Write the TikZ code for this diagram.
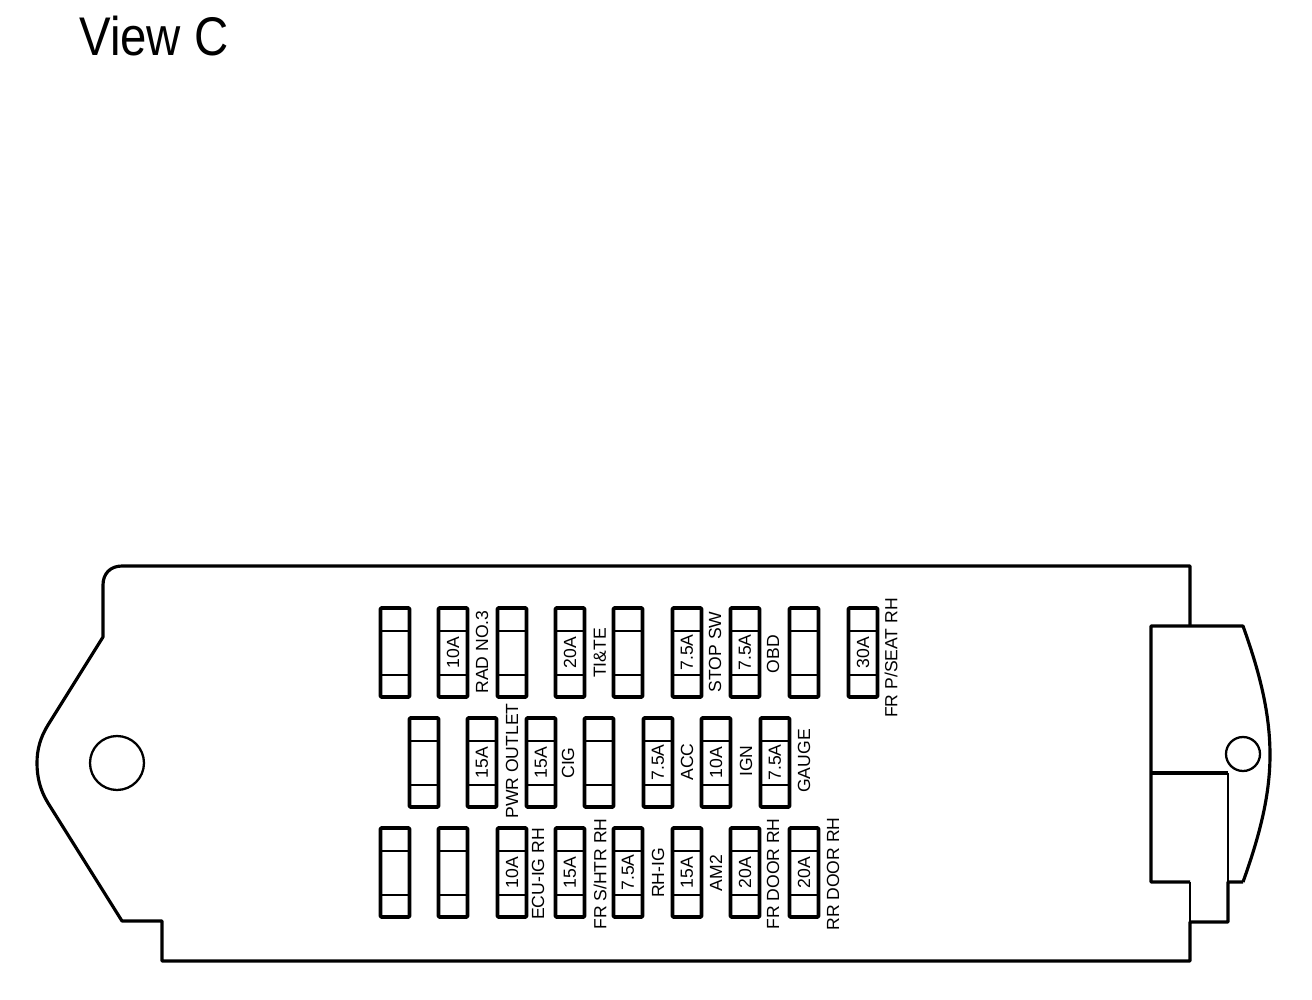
\documentclass[tikz,border=0pt]{standalone}
\usepackage{fontspec}
\setmainfont{Liberation Sans}
\begin{document}
\begin{tikzpicture}[x=0.02cm,y=-0.02cm,line join=round]
    \tikzstyle{fuse}=[draw=black, line width=2.1pt, rectangle, rounded corners=0.5pt, outer sep=0pt, inner sep=0pt, minimum width=0.58cm, minimum height=1.78cm, text=black, font=\fontsize{10}{10}\selectfont]
    \tikzstyle{bar}=[draw=black, line width=1.1pt]
    \tikzstyle{lbl}=[rotate=90, inner sep=0pt, text=black, font=\fontsize{10}{10}\selectfont]
    \tikzstyle{hole}=[draw=black, circle, line width=1.3pt, outer sep=0pt, inner sep=0pt]
    \tikzstyle{case}=[draw=black, line width=1.8pt]
    \tikzstyle{thin}=[draw=black, line width=1.1pt]

    \useasboundingbox (0,0) rectangle (1312,1000);

    \node[anchor=base west, inner sep=0pt, xscale=0.87, font=\fontsize{31}{31}\selectfont] (title) at (79,56) {View C};

    % case outline
    \coordinate (c1) at (1190,922);
    \coordinate (c2) at (1228,922);
    \coordinate (c3) at (1228,882);
    \coordinate (c4) at (1243,882);
    \coordinate (c5) at (1270,755);
    \coordinate (c6) at (1243,626);
    \coordinate (c7) at (1151,626);
    \coordinate (c8) at (1151,882);
    \coordinate (c9) at (1190,882);
    \coordinate (c10) at (1190,626);
    \coordinate (c11) at (1151,773);
    \coordinate (c12) at (1228,773);

    \draw[case] (c10) -- (1190,566) -- (122,566) .. controls (110,566) and (103,574) .. (103,585)
      -- (103,637) -- (48,725) .. controls (40,738) and (37,750) .. (37,763)
      .. controls (37,777) and (40,790) .. (48,803) -- (122,921) -- (162,921) -- (162,961)
      -- (1190,961) -- (c1) -- (c2) -- (c3) -- (c4);
    \draw[case] (c4) .. controls (1258,840) and (1270,798) .. (c5)
      .. controls (1270,710) and (1258,668) .. (c6) -- (c7) -- (c8) -- (c9);
    \draw[thin] (c9) -- (c1);
    \draw[thin] (c12) -- (c3);
    \draw[case] (c11) -- (c12);

    \node[hole, minimum size=1.08cm] (bolt) at (117,763) {};
    \node[hole, minimum size=0.68cm] (clip) at (1243,754) {};

    % fuses
    \foreach \n/\x/\y/\rate in {
      t1/395/652.5/{}, t2/453/652.5/10A, t3/512/652.5/{}, t4/570/652.5/20A, t5/628/652.5/{},
      t6/687/652.5/7.5A, t7/745/652.5/7.5A, t8/804/652.5/{}, t9/863/652.5/30A,
      m1/424/762.5/{}, m2/482/762.5/15A, m3/541/762.5/15A, m4/599/762.5/{},
      m5/658/762.5/7.5A, m6/716/762.5/10A, m7/775/762.5/7.5A,
      b1/395/872.5/{}, b2/453/872.5/{}, b3/512/872.5/10A, b4/570/872.5/15A,
      b5/628/872.5/7.5A, b6/687/872.5/15A, b7/745/872.5/20A, b8/804/872.5/20A}
    {
      \node[fuse] (\n) at (\x,\y) {\rotatebox{90}{\rate}};
      \draw[bar] ([yshift=-0.46cm]\n.north west) -- ([yshift=-0.46cm]\n.north east);
      \draw[bar] ([yshift=0.44cm]\n.south west) -- ([yshift=0.44cm]\n.south east);
    }

    % names
    \node[lbl] (radno) at (482,652) {RAD NO.3};
    \node[lbl] (tite) at (600,653) {TI\&TE};
    \node[lbl] (stop) at (715,652) {STOP SW};
    \node[lbl] (obd) at (773,654) {OBD};
    \node[lbl] (pseat) at (891,658) {FR P/SEAT RH};
    \node[lbl] (pwr) at (512,761) {PWR OUTLET};
    \node[lbl] (cig) at (568,763) {CIG};
    \node[lbl] (acc) at (687,762) {ACC};
    \node[lbl] (ign) at (746,761) {IGN};
    \node[lbl] (gauge) at (804,761) {GAUGE};
    \node[lbl] (ecu) at (538,874) {ECU-IG RH};
    \node[lbl] (shtr) at (600,874) {FR S/HTR RH};
    \node[lbl] (rhig) at (658,873) {RH-IG};
    \node[lbl] (amtwo) at (716,873) {AM2};
    \node[lbl] (frdoor) at (773,874) {FR DOOR RH};
    \node[lbl] (rrdoor) at (833,874) {RR DOOR RH};
\end{tikzpicture}
\end{document}
